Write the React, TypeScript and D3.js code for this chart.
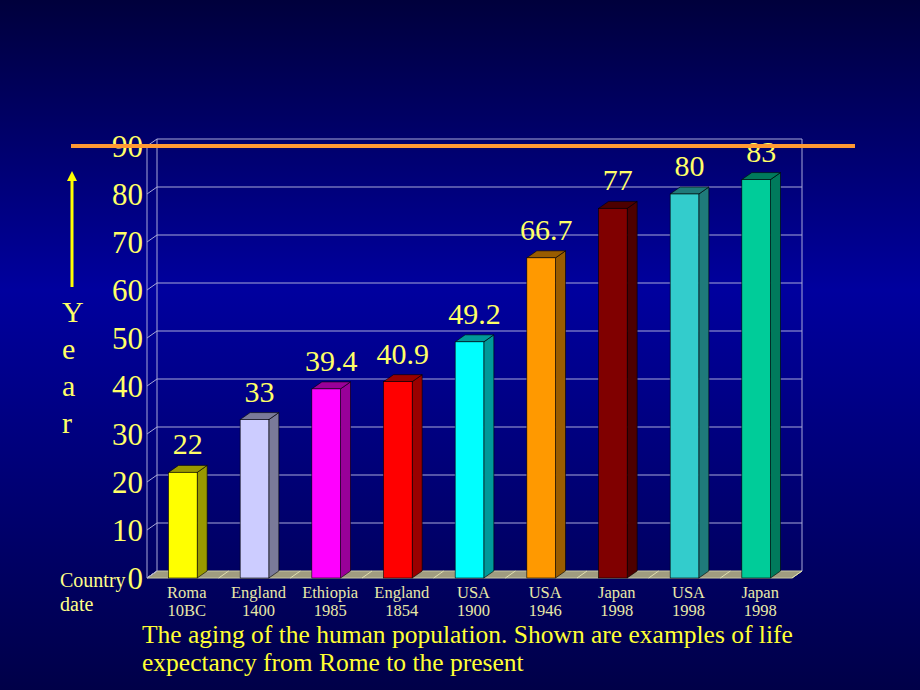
import React, { useEffect, useRef } from 'react';
import * as d3 from 'd3';

const countries = ['Roma', 'England', 'Ethiopia', 'England', 'USA', 'USA', 'Japan', 'USA', 'Japan'];
const dates = ['10BC', '1400', '1985', '1854', '1900', '1946', '1998', '1998', '1998'];
const lifeExpectancy = [22, 33, 39.4, 40.9, 49.2, 66.7, 77, 80, 83];
const valueLabels = ['22', '33', '39.4', '40.9', '49.2', '66.7', '77', '80', '83'];
const yTicks = [0, 10, 20, 30, 40, 50, 60, 70, 80, 90];
const frontColors = ['#ffff00', '#ccccff', '#ff00ff', '#ff0000', '#00ffff', '#ff9900', '#800000', '#33cccc', '#00cc99'];
const sideColors = ['#999900', '#7a7a99', '#990099', '#990000', '#009999', '#995c00', '#4d0000', '#1f7a7a', '#007a5c'];
const yearLetters = ['Y', 'e', 'a', 'r'];
const caption = [
  'The aging of the human population. Shown are examples of life',
  'expectancy from Rome to the present',
];

const W = 920;
const H = 690;
const FONT = '"Liberation Serif", "Times New Roman", serif';

const App = () => {
  const svgRef = useRef<SVGSVGElement>(null);

  useEffect(() => {
    if (!svgRef.current) return;
    const svg = d3.select(svgRef.current);
    svg.selectAll('*').remove();

    // background gradient
    const defs = svg.append('defs');
    const grad = defs.append('linearGradient')
      .attr('id', 'bg')
      .attr('x1', 0).attr('y1', 0).attr('x2', 0).attr('y2', 1);
    grad.append('stop').attr('offset', '0%').attr('stop-color', '#00003c');
    grad.append('stop').attr('offset', '42%').attr('stop-color', '#00009e');
    grad.append('stop').attr('offset', '100%').attr('stop-color', '#000048');
    svg.append('rect').attr('width', W).attr('height', H).attr('fill', 'url(#bg)');

    // 3D plot geometry
    const left = 147;
    const right = 792;
    const dx = 10;
    const dy = 7;

    const y = d3.scaleLinear().domain([0, 90]).range([578, 146]);
    const x = d3.scaleBand<number>()
      .domain(d3.range(lifeExpectancy.length))
      .range([left, right])
      .paddingInner(0.6)
      .paddingOuter(0.3);
    const band = d3.scaleBand<number>()
      .domain(d3.range(lifeExpectancy.length))
      .range([left, right]);

    const grid = svg.append('g');
    const gridColor = '#a8a8d8';

    // floor
    grid.append('path')
      .attr('d', `M${left},${y(0)} L${right},${y(0)} L${right + dx},${y(0) - dy} L${left + dx},${y(0) - dy} Z`)
      .attr('fill', '#a09c80')
      .attr('stroke', '#c8c8a0')
      .attr('stroke-width', 1);
    // floor separators
    d3.range(lifeExpectancy.length + 1).forEach(i => {
      const bx = left + band.step() * i;
      grid.append('line')
        .attr('x1', bx).attr('y1', y(0))
        .attr('x2', bx + dx).attr('y2', y(0) - dy)
        .attr('stroke', '#e0e0b0').attr('stroke-width', 1);
    });

    // back wall gridlines and left wall diagonals
    yTicks.forEach(t => {
      if (t > 0) {
        grid.append('line')
          .attr('x1', left + dx).attr('x2', right + dx)
          .attr('y1', y(t) - dy).attr('y2', y(t) - dy)
          .attr('stroke', gridColor).attr('stroke-width', 1);
      }
      grid.append('line')
        .attr('x1', left).attr('y1', y(t))
        .attr('x2', left + dx).attr('y2', y(t) - dy)
        .attr('stroke', gridColor).attr('stroke-width', 1);
    });
    grid.append('line')
      .attr('x1', left).attr('x2', left).attr('y1', y(90)).attr('y2', y(0))
      .attr('stroke', gridColor);
    grid.append('line')
      .attr('x1', left + dx).attr('x2', left + dx).attr('y1', y(90) - dy).attr('y2', y(0) - dy)
      .attr('stroke', gridColor);
    grid.append('line')
      .attr('x1', right + dx).attr('x2', right + dx).attr('y1', y(90) - dy).attr('y2', y(0) - dy)
      .attr('stroke', gridColor);

    // y tick labels
    svg.append('g').selectAll('text')
      .data(yTicks)
      .enter()
      .append('text')
      .attr('x', 143)
      .attr('y', d => y(d) + 11)
      .attr('text-anchor', 'end')
      .attr('font-family', FONT)
      .attr('font-size', 31)
      .attr('fill', '#ffff66')
      .text(d => d);

    // bars
    const bars = svg.append('g');
    lifeExpectancy.forEach((v, i) => {
      const x0 = x(i)!;
      const w = x.bandwidth();
      const yt = y(v);
      const yb = y(0);
      const g = bars.append('g');
      g.append('path')
        .attr('d', `M${x0 + w},${yt} L${x0 + w + dx},${yt - dy} L${x0 + w + dx},${yb - dy} L${x0 + w},${yb} Z`)
        .attr('fill', sideColors[i]).attr('stroke', '#000000').attr('stroke-width', 0.6);
      g.append('path')
        .attr('d', `M${x0},${yt} L${x0 + dx},${yt - dy} L${x0 + w + dx},${yt - dy} L${x0 + w},${yt} Z`)
        .attr('fill', sideColors[i]).attr('stroke', '#000000').attr('stroke-width', 0.6);
      g.append('rect')
        .attr('x', x0).attr('y', yt)
        .attr('width', w).attr('height', yb - yt)
        .attr('fill', frontColors[i]).attr('stroke', '#000000').attr('stroke-width', 0.6);
      g.append('text')
        .attr('x', x0 + w / 2 + dx / 2)
        .attr('y', yt - dy - 11)
        .attr('text-anchor', 'middle')
        .attr('font-family', FONT)
        .attr('font-size', 30)
        .attr('fill', '#ffff66')
        .text(valueLabels[i]);
    });

    // category labels
    const cat = svg.append('g')
      .attr('font-family', FONT)
      .attr('font-size', 16.5)
      .attr('fill', '#e8e8a8')
      .attr('text-anchor', 'middle');
    countries.forEach((c, i) => {
      const cx = band(i)! + band.bandwidth() / 2 + 4;
      cat.append('text').attr('x', cx).attr('y', 598).text(c);
      cat.append('text').attr('x', cx).attr('y', 616).text(dates[i]);
    });

    // Country / date
    svg.append('text').attr('x', 60).attr('y', 587)
      .attr('font-family', FONT).attr('font-size', 20).attr('fill', '#ffff88').text('Country');
    svg.append('text').attr('x', 60).attr('y', 611)
      .attr('font-family', FONT).attr('font-size', 20).attr('fill', '#ffff88').text('date');

    // Year letters
    yearLetters.forEach((l, i) => {
      svg.append('text')
        .attr('x', 62).attr('y', 322 + i * 37)
        .attr('font-family', FONT).attr('font-size', 30).attr('fill', '#ffff66')
        .text(l);
    });

    // arrow
    svg.append('line')
      .attr('x1', 72).attr('x2', 72).attr('y1', 287).attr('y2', 178)
      .attr('stroke', '#ffff00').attr('stroke-width', 3);
    svg.append('path')
      .attr('d', 'M72,171 L67,181 L77,181 Z')
      .attr('fill', '#ffff00');

    // orange reference line
    svg.append('line')
      .attr('x1', 71).attr('x2', 855).attr('y1', 146).attr('y2', 146)
      .attr('stroke', '#ff9933').attr('stroke-width', 4);

    // caption
    caption.forEach((line, i) => {
      svg.append('text')
        .attr('x', 142).attr('y', 643 + i * 28)
        .attr('font-family', FONT).attr('font-size', 25.5).attr('fill', '#ffff33')
        .text(line);
    });
  }, []);

  return (
    <svg
      ref={svgRef}
      width={W}
      height={H}
      viewBox={`0 0 ${W} ${H}`}
      style={{ position: 'absolute', left: 0, top: 0, display: 'block' }}
    />
  );
};

export default App;
